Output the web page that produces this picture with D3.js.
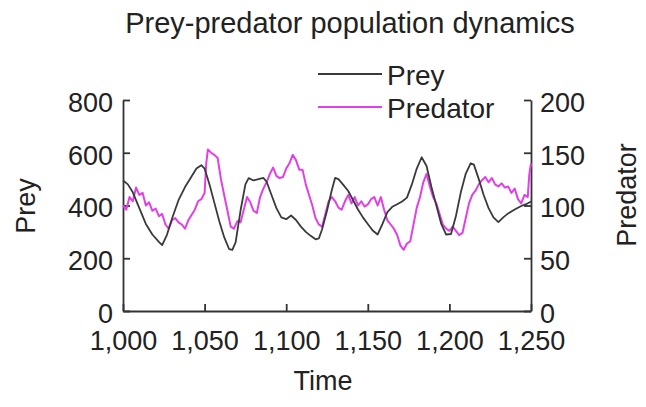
<!DOCTYPE html>
<html>
<head>
<meta charset="utf-8">
<script src="https://cdn.jsdelivr.net/npm/d3@7"></script>
<style>
  body { margin: 0; background: #fff; }
  text { font-family: "Liberation Sans", Arial, sans-serif; fill: #222; }
</style>
</head>
<body>
<div id="chart"></div>
<script>
// prey population (left axis)
var preyTime = [1000,1003,1006,1010,1014,1018,1022,1024,1027,1030,1034,1038,1042,1045,1048,1050,1053,1056,1059,1062,1065,1067,1069,1072,1075,1077,1080,1083,1086,1088,1091,1094,1097,1100,1103,1106,1109,1112,1115,1118,1120,1122,1125,1128,1130,1132,1135,1138,1141,1144,1147,1150,1153,1156,1159,1162,1165,1168,1171,1174,1177,1180,1183,1186,1189,1192,1195,1198,1201,1204,1207,1210,1213,1215,1218,1221,1224,1227,1230,1233,1236,1240,1244,1247,1250];
var preyValue = [495,480,450,390,330,290,262,250,290,350,420,470,510,540,553,540,480,410,340,280,235,232,260,380,480,504,495,500,505,490,440,390,355,348,362,345,320,300,285,272,275,310,380,460,505,500,478,455,420,385,355,330,305,290,330,375,395,405,415,430,480,540,583,550,470,400,330,290,292,360,450,520,560,555,500,440,390,355,337,355,370,385,398,405,415];

// predator population (right axis)
var predTime = [1000,1002,1004,1006,1008,1010,1012,1014,1016,1018,1020,1022,1024,1026,1028,1030,1032,1034,1036,1038,1040,1042,1044,1046,1048,1050,1051,1052,1054,1056,1058,1060,1062,1064,1066,1068,1070,1072,1074,1076,1078,1080,1082,1084,1086,1088,1090,1092,1094,1096,1098,1100,1102,1104,1106,1108,1110,1112,1114,1116,1118,1120,1122,1124,1126,1128,1130,1132,1134,1136,1138,1140,1142,1144,1146,1148,1150,1152,1154,1156,1158,1160,1162,1164,1166,1168,1170,1172,1174,1176,1178,1180,1182,1184,1186,1188,1190,1192,1194,1196,1198,1200,1202,1204,1206,1208,1210,1212,1214,1216,1218,1220,1222,1224,1226,1228,1230,1232,1234,1236,1238,1240,1242,1244,1246,1248,1249,1250];
var predValue = [100,96,108,104,117,110,112,100,103,95,97,90,92,82,78,86,88,84,82,78,86,91,96,104,106,112,140,153,150,148,145,125,110,95,80,78,85,84,96,108,103,95,93,108,116,122,130,136,128,126,127,135,140,148,143,134,134,120,110,100,88,82,80,92,104,108,104,98,96,104,110,102,108,100,104,99,101,106,108,100,108,96,86,82,78,72,62,58,64,66,82,98,108,122,130,118,108,102,92,82,78,76,80,76,72,74,88,102,110,114,120,124,127,122,126,120,118,121,117,118,112,116,106,102,110,108,130,140];

var xTicks = [1000,1050,1100,1150,1200,1250];
var preyTicks = [0,200,400,600,800];
var predTicks = [0,50,100,150,200];

var margin = {top: 100, right: 115, bottom: 96, left: 123},
    width = 646 - margin.left - margin.right,
    height = 407 - margin.top - margin.bottom;

var svg = d3.select("#chart")
  .append("svg")
    .attr("width", 646)
    .attr("height", 407)
  .append("g")
    .attr("transform", "translate(" + margin.left + "," + margin.top + ")");

var x = d3.scaleLinear().domain([1000, 1250]).range([0, width]);
var yPrey = d3.scaleLinear().domain([0, 800]).range([height, 0]);
var yPred = d3.scaleLinear().domain([0, 200]).range([height, 0]);

// axes, ticks pointing inside
var xAxis = svg.append("g")
  .attr("transform", "translate(0," + height + ")")
  .call(d3.axisBottom(x).tickValues(xTicks).tickFormat(d3.format(",")).tickSizeInner(-7).tickSizeOuter(0).tickPadding(20));

var leftAxis = svg.append("g")
  .call(d3.axisLeft(yPrey).tickValues(preyTicks).tickSizeInner(-7).tickSizeOuter(0).tickPadding(10));

var rightAxis = svg.append("g")
  .attr("transform", "translate(" + width + ",0)")
  .call(d3.axisRight(yPred).tickValues(predTicks).tickSizeInner(-7).tickSizeOuter(0).tickPadding(9));

[xAxis, leftAxis, rightAxis].forEach(function(a) {
  a.selectAll("path, line").attr("stroke", "#333").attr("stroke-width", 1.8);
  a.selectAll("text").attr("font-size", "27px").attr("fill", "#222")
    .style("font-family", "'Liberation Sans', Arial, sans-serif");
});
leftAxis.selectAll("text").attr("dy", "0.42em");
rightAxis.selectAll("text").attr("dy", "0.42em");

// lines
var preyLine = d3.line()
  .x(function(d, i) { return x(preyTime[i]); })
  .y(function(d) { return yPrey(d); });
var predLine = d3.line()
  .x(function(d, i) { return x(predTime[i]); })
  .y(function(d) { return yPred(d); });

svg.append("path")
  .attr("d", predLine(predValue))
  .attr("fill", "none")
  .attr("stroke", "#e040e6")
  .attr("stroke-width", 2)
  .attr("stroke-linejoin", "round");

svg.append("path")
  .attr("d", preyLine(preyValue))
  .attr("fill", "none")
  .attr("stroke", "#3a3a3a")
  .attr("stroke-width", 1.8)
  .attr("stroke-linejoin", "round");

// title
svg.append("text")
  .attr("x", 350 - margin.left)
  .attr("y", 33 - margin.top)
  .attr("font-size", "29px")
  .style("text-anchor", "middle")
  .text("Prey-predator population dynamics");

// legend
var legend = [{name: "Prey", color: "#3a3a3a", y: 74}, {name: "Predator", color: "#e040e6", y: 107}];
legend.forEach(function(l) {
  svg.append("line")
    .attr("x1", 318 - margin.left).attr("x2", 382 - margin.left)
    .attr("y1", l.y - margin.top).attr("y2", l.y - margin.top)
    .attr("stroke", l.color).attr("stroke-width", 2);
  svg.append("text")
    .attr("x", 387 - margin.left)
    .attr("y", l.y - margin.top + 11)
    .attr("font-size", "28px")
    .text(l.name);
});

// axis labels
svg.append("text")
  .attr("x", 323 - margin.left)
  .attr("y", 390 - margin.top)
  .attr("font-size", "27px")
  .style("text-anchor", "middle")
  .text("Time");

svg.append("text")
  .attr("transform", "translate(" + (35 - margin.left) + "," + (206 - margin.top) + ") rotate(-90)")
  .attr("font-size", "27px")
  .style("text-anchor", "middle")
  .text("Prey");

svg.append("text")
  .attr("transform", "translate(" + (636 - margin.left) + "," + (195 - margin.top) + ") rotate(-90)")
  .attr("font-size", "27px")
  .style("text-anchor", "middle")
  .text("Predator");
</script>
</body>
</html>
